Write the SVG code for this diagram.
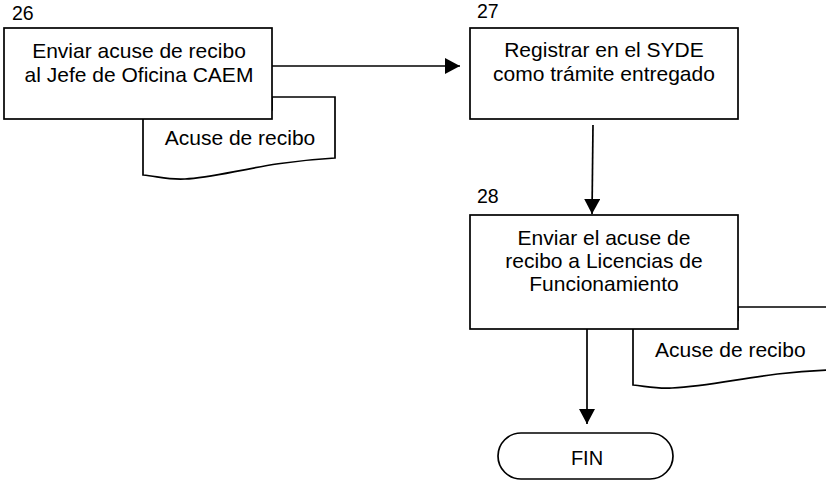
<svg xmlns="http://www.w3.org/2000/svg" width="826" height="482" viewBox="0 0 826 482">
  <defs>
    <marker id="arrow" viewBox="0 0 15 16" refX="15" refY="8" markerWidth="15" markerHeight="16" markerUnits="userSpaceOnUse" orient="auto">
      <path d="M0,0 L15,8 L0,16 Z" fill="#000"/>
    </marker>
  </defs>
  <style>
    .shape { fill: #fff; stroke: #000; stroke-width: 1.7; }
    .line { fill: none; stroke: #000; stroke-width: 1.7; }
    text { font-family: "Liberation Sans", Arial, sans-serif; fill: #000; }
    .lbl { font-size: 21px; text-anchor: middle; }
    .num { font-size: 19.5px; }
    .doc { font-size: 21px; }
  </style>
  <rect width="826" height="482" fill="#fff"/>

  <!-- connectors -->
  <g id="connectors">
    <line class="line" x1="272" y1="66" x2="460" y2="66" marker-end="url(#arrow)"/>
    <line class="line" x1="593" y1="125" x2="592" y2="214" marker-end="url(#arrow)"/>
    <line class="line" x1="587" y1="329" x2="587" y2="424" marker-end="url(#arrow)"/>
  </g>

  <!-- step 26 with its document -->
  <g id="doc26">
    <path class="shape" d="M143,110 L143,175 C160,177 170,180 185,179 C220,178 260,162 335,158 L335,97 L272,97 L272,110 Z"/>
    <text class="doc" x="240" y="145" text-anchor="middle">Acuse de recibo</text>
  </g>
  <g id="node26">
    <text class="num" x="12" y="20">26</text>
    <rect class="shape" x="4" y="28" width="268" height="91"/>
    <text class="lbl" x="139" y="58">Enviar acuse de recibo</text>
    <text class="lbl" x="139" y="82">al Jefe de Oficina CAEM</text>
  </g>

  <!-- step 27 -->
  <g id="node27">
    <text class="num" x="477" y="18">27</text>
    <rect class="shape" x="470" y="28" width="268" height="91"/>
    <text class="lbl" x="604" y="57">Registrar en el SYDE</text>
    <text class="lbl" x="604" y="81">como trámite entregado</text>
  </g>

  <!-- step 28 with its document -->
  <g id="doc28">
    <path class="shape" d="M633,320 L633,385 C650,387 658,389 672,388 C720,386 760,372 830,370 L830,307 L738,307 L738,320 Z"/>
    <text class="doc" x="655" y="357">Acuse de recibo</text>
  </g>
  <g id="node28">
    <text class="num" x="477" y="203">28</text>
    <rect class="shape" x="470" y="215" width="268" height="114"/>
    <text class="lbl" x="604" y="245">Enviar el acuse de</text>
    <text class="lbl" x="604" y="268">recibo a Licencias de</text>
    <text class="lbl" x="604" y="291">Funcionamiento</text>
  </g>

  <!-- end terminator -->
  <g id="fin">
    <rect class="shape" x="498" y="433" width="175" height="46" rx="23" ry="23"/>
    <text x="587" y="465" font-size="20px" text-anchor="middle">FIN</text>
  </g>
</svg>
